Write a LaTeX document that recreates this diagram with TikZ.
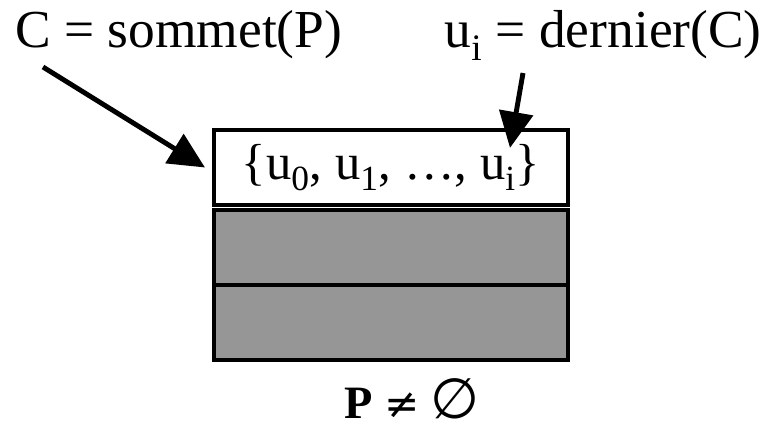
\documentclass[tikz,border=0pt]{standalone}
\usepackage{fontspec}
\setmainfont{Liberation Serif}
\newfontfamily\symfnt{DejaVu Sans}
\usetikzlibrary{arrows.meta, positioning, calc}
\definecolor{pilegray}{HTML}{969696}

\begin{document}
\begin{tikzpicture}[
  >={Triangle[length=9mm, width=8.4mm]},
  cell/.style={
    draw=black, line width=2.8pt, fill=#1, outer sep=0pt,
    minimum width=88.5mm, minimum height=18.75mm, inner sep=0pt
  },
  arr/.style={->, line width=3.5pt, black},
  lbl/.style={font=\fontsize{38}{42}\selectfont, inner sep=0pt},
]

% Canvas
\useasboundingbox (0,0) rectangle (19.4,10.875);

% Labels
\node[lbl, anchor=base west] (sommet) at (0.375,9.675) {C = sommet(P)};
\node[lbl, anchor=base east] (dernier) at (19.05,9.675)
  {u\textsubscript{i} = dernier(C)};

% Stack
\node[cell=white, font=\fontsize{36}{40}\selectfont] (top) at (9.775,6.6875)
  {\{u\textsubscript{0}, u\textsubscript{1}, \dots, u\textsubscript{i}\}};
\node[cell=pilegray, below=1.25mm of top] (mid) {};
\node[cell=pilegray, below=0pt of mid] (bot) {};

% Arrows
\coordinate (c1) at (1.075,9.2);
\coordinate (c2) at (13.075,9.05);
\draw[arr] (c1) -- ([xshift=-2.25mm]top.west);
\draw[arr] (c2) -- ([shift={(2.975,0.49)}]top.center);

% Condition below
\node[font=\fontsize{33}{37}\selectfont, anchor=base] (cond) at (10.3,0.425)
  {\textbf{P} {\symfnt\mdseries\fontsize{30}{34}\selectfont ≠}
   {\symfnt\mdseries\fontsize{40}{44}\selectfont ∅}};

\end{tikzpicture}
\end{document}
